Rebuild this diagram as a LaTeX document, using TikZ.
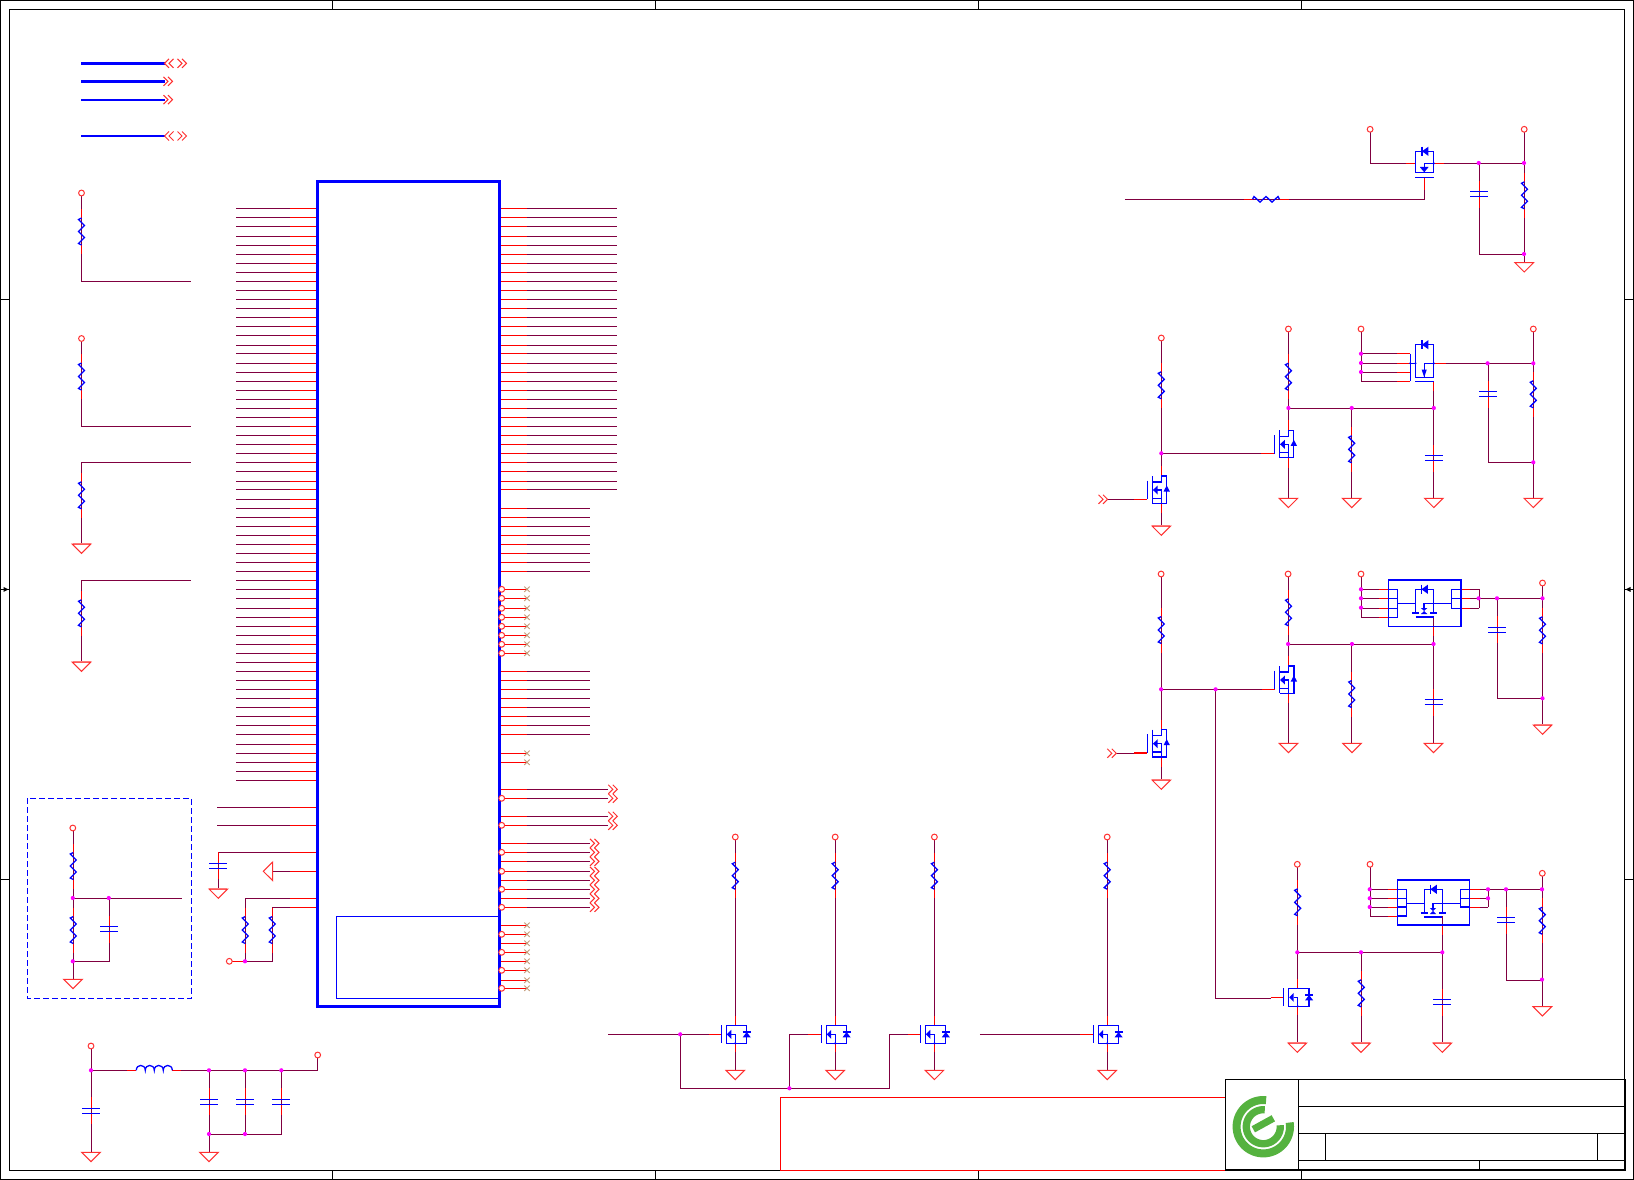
\documentclass[tikz,border=0pt]{standalone}
\definecolor{wirec}{HTML}{800040}
\definecolor{pinc}{HTML}{FF0000}
\definecolor{symc}{HTML}{0000FF}
\definecolor{dotc}{HTML}{FF00FF}
\definecolor{portc}{HTML}{FF3030}
\definecolor{ncc}{HTML}{C49A78}
\definecolor{logoc}{HTML}{55B23F}
\tikzset{
 wire/.style={draw=wirec,line width=1.25pt},
 pinline/.style={draw=pinc,line width=1.25pt},
 sym/.style={draw=symc,line width=1.3pt},
 symfill/.style={fill=symc},
 port/.style={draw=portc,line width=1pt},
 frameln/.style={draw=black,line width=1.1pt},
 busa/.style={draw=symc,line width=3pt},
 busb/.style={draw=symc,line width=2pt},
 ncmark/.style={draw=ncc,line width=0.9pt},
 logoln/.style={draw=logoc},
}
% resistor, vertical and horizontal
\newcommand\RV[2]{\draw[pinline] (#1,#2-22.5)--(#1,#2-13.5) (#1,#2+13.5)--(#1,#2+22.5);
 \draw[sym] (#1,#2-13.5)--(#1-3,#2-12)--(#1+3,#2-6)--(#1-3,#2)--(#1+3,#2+6)--(#1-3,#2+12)--(#1,#2+13.5);}
\newcommand\RH[2]{\draw[pinline] (#1-22.5,#2)--(#1-13.5,#2) (#1+13.5,#2)--(#1+22.5,#2);
 \draw[sym] (#1-13.5,#2)--(#1-12,#2-2.8)--(#1-6,#2+2.8)--(#1,#2-2.8)--(#1+6,#2+2.8)--(#1+12,#2-2.8)--(#1+13.5,#2);}
% capacitor
\newcommand\CV[2]{\draw[pinline] (#1,#2-13.5)--(#1,#2-2.5) (#1,#2+2.5)--(#1,#2+13.5);
 \draw[sym] (#1-9,#2-2.5)--(#1+9,#2-2.5) (#1-9,#2+2.5)--(#1+9,#2+2.5);}
% ground, power circle, junction, chevrons, nc cross
\newcommand\GND[2]{\draw[draw=portc!45,line width=1.5pt] (#1-9,#2)--(#1+9,#2);
 \draw[port] (#1-9.3,#2)--(#1+9.3,#2)--(#1,#2+9.3)--cycle;}
\newcommand\PWR[2]{\draw[port,fill=white] (#1,#2) circle[radius=2.9pt];}
\newcommand\JN[2]{\fill[dotc] (#1,#2) circle[radius=2.1pt];}
\newcommand\CHR[2]{\draw[port] (#1,#2-4.5)--(#1+4.5,#2)--(#1,#2+4.5) (#1+4.5,#2-4.5)--(#1+9,#2)--(#1+4.5,#2+4.5);}
\newcommand\CHL[2]{\draw[port] (#1+4.5,#2-4.5)--(#1,#2)--(#1+4.5,#2+4.5) (#1+9,#2-4.5)--(#1+4.5,#2)--(#1+9,#2+4.5);}
\newcommand\NCX[2]{\draw[ncmark] (#1-2.7,#2-2.7)--(#1+2.7,#2+2.7) (#1-2.7,#2+2.7)--(#1+2.7,#2-2.7);}
% diode with bar on the left, on a horizontal line
\newcommand\DIOH[2]{\fill[symfill] (#1,#2)--(#1+6.5,#2-4.6)--(#1+6.5,#2+4.6)--cycle;
 \draw[sym] (#1,#2-4.6)--(#1,#2+4.6);}
% NMOS in a box: drain x, top y
\newcommand\NFA[2]{\draw[pinline] (#1,#2-9)--(#1,#2) (#1,#2+18)--(#1,#2+27) (#1-27,#2+9)--(#1-14,#2+9);
 \draw[sym] (#1-14,#2)--(#1-14,#2+18);
 \draw[sym] (#1-9,#2) rectangle (#1+11.4,#2+18);
 \fill[symfill] (#1-8.5,#2+9)--(#1-4,#2+4.5)--(#1-4,#2+13.5)--cycle;
 \draw[sym] (#1-4,#2+9)--(#1,#2+9)--(#1,#2+18);
 \fill[symc] (#1,#2+18) circle[radius=1.2pt];
 \fill[symfill] (#1+11.4,#2+6.7)--(#1+15.4,#2+12)--(#1+7.4,#2+12)--cycle;
 \draw[sym] (#1+7.4,#2+6.7)--(#1+15.4,#2+6.7);}
% NMOS four-terminal: drain x, centre y
\newcommand\NFB[2]{\draw[pinline] (#1,#2-24)--(#1,#2-14) (#1,#2+13.3)--(#1,#2+23.3) (#1-27,#2+9.3)--(#1-14,#2+9.3);
 \draw[sym] (#1-14,#2-9.3)--(#1-14,#2+9.3);
 \draw[sym] (#1-8.9,#2-14)--(#1-8.9,#2+13.3);
 \draw[sym] (#1-8.9,#2-8)--(#1,#2-8)--(#1,#2-14)--(#1+5.4,#2-14)--(#1+5.4,#2+13.3)--(#1-8.9,#2+13.3);
 \draw[sym] (#1-8.9,#2+8.3)--(#1,#2+8.3);
 \draw[sym] (#1-4,#2)--(#1,#2)--(#1,#2+13.3);
 \fill[symfill] (#1-8.4,#2)--(#1-3.6,#2-4.5)--(#1-3.6,#2+4.5)--cycle;
 \fill[symfill] (#1+5.4,#2-4.5)--(#1+8.6,#2+1.5)--(#1+2.2,#2+1.5)--cycle;}
% load-switch block: left x, top y, extra height
\newcommand\BIGSW[3]{\draw[sym] (#1,#2) rectangle (#1+72.5,#2+45+#3);
 \draw[sym] (#1,#2+9.3) rectangle (#1+9,#2+36+#3);
 \draw[sym] (#1,#2+18.3)--(#1+9,#2+18.3) (#1,#2+27+#3)--(#1+9,#2+27+#3);
 \draw[sym] (#1+63,#2+9.3) rectangle (#1+72.5,#2+27+#3);
 \draw[sym] (#1+63,#2+18.3)--(#1+72.5,#2+18.3);
 \draw[sym] (#1+9,#2+23.3)--(#1+27.1,#2+23.3);
 \draw[sym] (#1+27.1,#2+32.5)--(#1+27.1,#2+9.3)--(#1+45.1,#2+9.3)--(#1+45.1,#2+32.5);
 \draw[sym] (#1+35.7,#2+28)--(#1+35.7,#2+23.3)--(#1+63,#2+23.3);
 \draw[symc,line width=2pt] (#1+23.6,#2+32.5)--(#1+30.5,#2+32.5) (#1+41.6,#2+32.5)--(#1+48.6,#2+32.5);
 \draw[sym] (#1+27.1,#2+37)--(#1+45.1,#2+37);
 \fill[symfill] (#1+35.7,#2+31)--(#1+32.5,#2+34)--(#1+38.9,#2+34)--cycle;
 \fill[symfill] (#1+35.7,#2+31)--(#1+32.5,#2+28)--(#1+38.9,#2+28)--cycle;
 \DIOH{#1+33}{#2+9.3}}
\begin{document}
\begin{tikzpicture}[x=1pt,y=-1pt]
\useasboundingbox (0,0) rectangle (1634,1180);
\fill[white] (0,0) rectangle (1634,1180);
% ---------- sheet frame
\draw[frameln] (0.5,0.5) rectangle (1633.5,1179.5);
\draw[frameln] (9.5,9.5) rectangle (1624.5,1170.3);
\foreach \x in {332.4,655.5,978.5,1301.5}{\draw[frameln] (\x,0.5)--(\x,9.5) (\x,1170.3)--(\x,1179.5);}
\foreach \y in {299.3,589.4,879.3}{\draw[frameln] (0.5,\y)--(9.5,\y) (1624.5,\y)--(1633.5,\y);}
\fill (8.5,589.4)--(3.5,586.9)--(3.5,591.9)--cycle;
\fill (1625.5,589.4)--(1630.5,586.9)--(1630.5,591.9)--cycle;
% ---------- red box
\draw[pinline,line width=1.1pt] (780.4,1097.3) rectangle (1225.3,1170.3);
% ---------- title block
\draw[frameln] (1225.3,1079.3) rectangle (1625,1169.5);
\draw[draw=black,line width=2pt] (1225.3,1169.5)--(1625,1169.5)--(1625,1079.3);
\draw[frameln] (1298.7,1079.3)--(1298.7,1169.5);
\draw[frameln] (1298.7,1106.3)--(1625,1106.3) (1298.7,1133.3)--(1625,1133.3) (1298.7,1160.3)--(1625,1160.3);
\draw[frameln] (1325.7,1133.3)--(1325.7,1160.3) (1597.3,1133.3)--(1597.3,1160.3) (1479.3,1160.3)--(1479.3,1169.5);
% logo
\draw[logoln,line width=8pt] plot[domain=84:369,samples=70,smooth] ({1263.3+26.7*cos(\x)},{1126.7-26.7*sin(\x)});
\draw[logoln,line width=7.3pt] plot[domain=85:365,samples=60,smooth] ({1263.3+17*cos(\x)},{1126.7-17*sin(\x)});
\draw[logoln,line width=7pt] (1253.3,1129.3)--(1273.3,1118.3);
% ---------- bus stubs top left
\draw[busa] (81,63.3)--(164.5,63.3) (81,81.3)--(164.5,81.3);
\draw[busb] (81,99.7)--(164.5,99.7) (81,136)--(164.5,136);
\CHL{164.5}{63.3}\CHR{177.5}{63.3}
\CHR{163.5}{81.3}
\CHR{163.5}{99.7}
\CHL{164.5}{136}\CHR{177.5}{136}
% ---------- left pull networks
\draw[wire] (81.5,196)--(81.5,281.3)--(190.7,281.3);\RV{81.5}{231.5}\PWR{81.5}{193}
\draw[wire] (81.5,341)--(81.5,426.3)--(190.7,426.3);\RV{81.5}{376.5}\PWR{81.5}{338.5}
\draw[wire] (190.7,462.3)--(81.5,462.3)--(81.5,544);\RV{81.5}{495.3}\GND{81.5}{544}
\draw[wire] (190.7,580.3)--(81.5,580.3)--(81.5,662);\RV{81.5}{613.3}\GND{81.5}{662}
% ---------- main chip pins
\foreach \y in {208.3,217.3,226.3,236.3,245.3,254.3,263.3,272.3,281.3,290.3,299.3,308.3,317.3,326.3,335.3,345.3,353.3,363.3,372.3,381.3,390.3,399.3,408.3,417.3,426.3,435.3,444.3,453.3,462.3,471.3,481.3,489.3,499.3,508.3,517.3,526.3,535.3,544.3,553.3,562.3,571.3,580.3,589.3,598.3,608.3,617.3,626.3,635.3,644.3,653.3,662.3,671.3,680.3,689.3,698.3,707.3,716.3,725.3,734.3,744.3,753.3,762.3,771.3,780.3}{
 \draw[wire] (236,\y)--(290,\y); \draw[pinline] (290,\y)--(317,\y);}
\foreach \y in {807.3,825.3}{\draw[wire] (217.3,\y)--(290,\y); \draw[pinline] (290,\y)--(317,\y);}
\foreach \y in {208.3,217.3,226.3,236.3,245.3,254.3,263.3,272.3,281.3,290.3,299.3,308.3,317.3,326.3,335.3,345.3,353.3,363.3,372.3,381.3,390.3,399.3,408.3,417.3,426.3,435.3,444.3,453.3,462.3,471.3,481.3,489.3}{
 \draw[wire] (527,\y)--(617.3,\y); \draw[pinline] (499,\y)--(527,\y);}
\foreach \y in {508.3,517.3,526.3,535.3,544.3,553.3,562.3,571.3,671.3,680.3,689.3,698.3,707.3,716.3,725.3,734.3}{
 \draw[wire] (527,\y)--(590,\y); \draw[pinline] (499,\y)--(527,\y);}
\foreach \y in {589.3,598.3,608.3,617.3,626.3,635.3,644.3,653.3,934.3,952.3,970.3,988.3}{
 \draw[pinline] (499,\y)--(527,\y); \NCX{527}{\y}}
\foreach \y in {753.3,762.3,925.3,943.3,961.3,980.3}{
 \draw[pinline] (499,\y)--(527,\y); \NCX{527}{\y}}
\foreach \y in {789.3,798.3,816.3,825.3}{
 \draw[wire] (527,\y)--(608.3,\y); \draw[pinline] (499,\y)--(527,\y); \CHR{608.3}{\y}}
\foreach \y in {843.3,852.3,861.3,871.3,880.3,889.3,898.3,907.3}{
 \draw[wire] (527,\y)--(590,\y); \draw[pinline] (499,\y)--(527,\y); \CHR{590}{\y}}
% chip left extras
\draw[wire] (290,852.3)--(218.3,852.3)--(218.3,889);
\draw[pinline] (290,852.3)--(317,852.3);
\CV{218.3}{865.7}\GND{218.3}{889}
\draw[wire] (272.7,871.3)--(290,871.3);
\draw[pinline] (290,871.3)--(317,871.3);
\draw[draw=portc!45,line width=1.5pt] (272.7,862.3)--(272.7,880.3);
\draw[port] (272.7,862)--(272.7,880.6)--(263.3,871.3)--cycle;
\draw[wire] (290,898.3)--(245.3,898.3)--(245.3,961.3);
\draw[wire] (290,907.3)--(272.3,907.3)--(272.3,961.3)--(245.3,961.3);
\draw[pinline] (290,898.3)--(317,898.3) (290,907.3)--(317,907.3);
\draw[pinline] (232,961.3)--(245.3,961.3);
\RV{245.3}{930}\RV{272.3}{930}\PWR{229.3}{961.3}\JN{245}{961.3}
% chip body
\draw[symc,line width=3pt] (317.3,181.7) rectangle (499,1006.7);
\draw[sym] (336.3,916.3) rectangle (499,998.3);
\foreach \y in {589.3,598.3,608.3,617.3,626.3,635.3,644.3,653.3,934.3,952.3,970.3,988.3,798.3,825.3,852.3,871.3,889.3,907.3}{\PWR{501.7}{\y}}
% ---------- dashed group
\draw[symc,line width=1.1pt,dash pattern=on 6pt off 3pt] (27.3,798.3) rectangle (191.7,998.3);
\draw[wire] (73.3,831)--(73.3,979.3);
\draw[wire] (73.3,898.3)--(181.7,898.3);
\draw[wire] (109.3,898.3)--(109.3,961.3)--(73.3,961.3);
\RV{73.3}{866}\RV{73.3}{930}\CV{109.3}{929.3}
\PWR{72.8}{828}\GND{73}{979.3}\JN{72.8}{898}\JN{108.8}{898}\JN{72.8}{961.3}
% ---------- input filter bottom left
\draw[wire] (91.3,1049)--(91.3,1152.3);
\draw[wire] (91.3,1070.3)--(127,1070.3) (181,1070.3)--(317.7,1070.3)--(317.7,1058);
\draw[pinline] (127,1070.3)--(136.3,1070.3) (172.3,1070.3)--(181,1070.3);
\draw[sym] (136.3,1070.3) .. controls (136.3,1063.8) and (145.3,1063.8) .. (145.3,1070.3)
 .. controls (145.3,1063.8) and (154.3,1063.8) .. (154.3,1070.3)
 .. controls (154.3,1063.8) and (163.3,1063.8) .. (163.3,1070.3)
 .. controls (163.3,1063.8) and (172.3,1063.8) .. (172.3,1070.3);
\draw[wire] (209.3,1070.3)--(209.3,1152.3);
\draw[wire] (245.3,1070.3)--(245.3,1134.3);
\draw[wire] (281.3,1070.3)--(281.3,1134.3)--(209.3,1134.3);
\CV{91.3}{1110.7}\CV{209.3}{1101.7}\CV{245.3}{1101.7}\CV{281.3}{1101.7}
\PWR{91}{1046}\PWR{317.7}{1055}\GND{91}{1152.3}\GND{209}{1152.3}
\JN{91}{1070.3}\JN{209}{1070.3}\JN{245}{1070.3}\JN{281.3}{1070.3}\JN{209}{1134}\JN{245}{1134}
% ---------- low-side driver row
\foreach \d in {735.3,835.2,934.4,1107.2}{
 \draw[wire] (\d,840)--(\d,1025.3) (\d,1043.3)--(\d,1070.3);
 \RV{\d}{875.7}\NFA{\d}{1025.3}\PWR{\d}{837}\GND{\d}{1070.3}}
\draw[wire] (608,1034.3)--(708.5,1034.3);
\draw[wire] (680.2,1034.3)--(680.2,1088.3)--(889.3,1088.3)--(889.3,1034.3)--(908,1034.3);
\draw[wire] (789.4,1088.3)--(789.4,1034.3)--(808.2,1034.3);
\draw[wire] (979.8,1034.3)--(1080.2,1034.3);
\JN{680.2}{1034.3}\JN{789.4}{1088.3}
% ---------- circuit E (top right)
\draw[wire] (1370.8,132)--(1370.8,163.3)--(1415.4,163.3);
\draw[wire] (1433.8,163.3)--(1524.5,163.3);
\draw[wire] (1124.9,199.3)--(1424.2,199.3)--(1424.2,177.3);
\draw[pinline] (1405.5,163.3)--(1415.4,163.3) (1433.8,163.3)--(1444,163.3) (1424.2,177.3)--(1424.2,190);
\RH{1266}{199.3}
\draw[sym] (1415.4,151.3) rectangle (1433.8,172.3);
\draw[sym] (1433.8,163.3)--(1424.2,163.3)--(1424.2,172.3);
\fill[symfill] (1424.2,172.3)--(1419.8,167)--(1428.6,167)--cycle;
\draw[sym] (1415.4,177.3)--(1433.8,177.3);
\DIOH{1421.9}{151.3}
\draw[wire] (1524.5,132)--(1524.5,262.7);
\draw[wire] (1479.4,163.3)--(1479.4,254.3)--(1524.5,254.3);
\RV{1524.5}{195.3}\CV{1479.4}{194.3}
\PWR{1370.1}{129.3}\PWR{1524.2}{129.3}\GND{1524.2}{262.7}
\JN{1478.7}{163}\JN{1524}{163}\JN{1524}{254}\fill[symc] (1433.8,163.3) circle[radius=1.2pt];
% ---------- circuit F
\draw[wire] (1161.3,341)--(1161.3,476) (1161.3,503.3)--(1161.3,526);
\draw[wire] (1161.3,453.3)--(1261.4,453.3);
\draw[wire] (1107.5,499.3)--(1134.3,499.3);
\RV{1161.3}{385.3}\NFB{1161.3}{490}
\CHR{1098.5}{499.3}\PWR{1161.3}{338}\GND{1161.3}{526}\JN{1161.3}{453.3}
\draw[wire] (1288.4,332)--(1288.4,430.3) (1288.4,457.6)--(1288.4,498.3);
\draw[wire] (1288.4,408.3)--(1433.8,408.3);
\draw[wire] (1351.7,408.3)--(1351.7,498.3);
\draw[wire] (1433.8,381.3)--(1433.8,498.3);
\RV{1288.4}{376.7}\NFB{1288.4}{444.3}\RV{1351.7}{449.3}\CV{1433.8}{458}
\draw[pinline] (1433.8,381.3)--(1433.8,391);
\PWR{1288.4}{329}\GND{1288.4}{498.3}\GND{1351.7}{498.3}\GND{1433.8}{498.3}
\JN{1288.4}{408}\JN{1351.7}{408}\JN{1433.8}{408}
\draw[wire] (1361.3,332)--(1361.3,381.3);
\foreach \y in {353.7,363.3,372.3,381.3}{\draw[wire] (1361.3,\y)--(1397,\y);\draw[pinline] (1397,\y)--(1410.3,\y);}
\draw[sym] (1410.3,353.7)--(1410.3,381.3);
\draw[sym] (1410.3,363.3)--(1415.4,363.3);
\draw[sym] (1415.4,344.7) rectangle (1433.8,377.3);
\draw[sym] (1433.8,363.3)--(1424.2,363.3)--(1424.2,377.3);
\fill[symfill] (1424.2,377.3)--(1421.6,369.5)--(1426.8,369.5)--cycle;
\draw[sym] (1415.4,381.3)--(1433.8,381.3);
\DIOH{1421.9}{344.7}
\draw[wire] (1433.8,363.3)--(1533.3,363.3);
\draw[pinline] (1434.5,363.3)--(1446,363.3);
\fill[symc] (1410.3,363.3) circle[radius=1.2pt] (1415.4,363.3) circle[radius=1.2pt] (1433.8,363.3) circle[radius=1.2pt];
\draw[wire] (1533.3,332)--(1533.3,498.3);
\draw[wire] (1488.3,363.3)--(1488.3,462.3)--(1533.3,462.3);
\RV{1533.3}{394.3}\CV{1488.3}{394.3}
\PWR{1361}{329}\PWR{1533.3}{329}\GND{1533.3}{498.3}
\JN{1361}{353.7}\JN{1361}{363}\JN{1361}{372}\JN{1487.6}{363.3}\JN{1533.3}{363.3}\JN{1533.3}{462.3}
% ---------- circuit G
\draw[wire] (1161.3,577)--(1161.3,729.7) (1161.3,757)--(1161.3,780);
\draw[wire] (1161.3,689.3)--(1261.5,689.3);
\draw[wire] (1116,753.3)--(1134.3,753.3);
\RV{1161.3}{630}\NFB{1161.3}{743.7}
\CHR{1107.3}{753.3}\PWR{1161.1}{574}\GND{1161.3}{780}\JN{1161.1}{689.3}
\draw[wire] (1215.3,689.3)--(1215.3,998.3)--(1271,998.3);
\JN{1215.6}{689.3}
\draw[wire] (1288.5,577)--(1288.5,666) (1288.5,693.3)--(1288.5,743.3);
\draw[wire] (1288.5,644.3)--(1433.5,644.3);
\draw[wire] (1351.7,644.3)--(1351.7,743.3);
\draw[wire] (1433.5,617.3)--(1433.5,743.3);
\RV{1288.5}{612.3}\NFB{1288.5}{680}\RV{1351.7}{694}\CV{1433.5}{702.3}
\draw[pinline] (1433.5,626)--(1433.5,636);
\PWR{1288.1}{574}\GND{1288.5}{743.3}\GND{1352}{743.3}\GND{1433.5}{743.3}
\JN{1288.1}{644}\JN{1352}{644}\JN{1433.5}{644}
\draw[wire] (1361.3,577)--(1361.3,617.3);
\foreach \y in {589.3,598.3,608.3,617.3}{\draw[wire] (1361.3,\y)--(1379,\y);\draw[pinline] (1379,\y)--(1397.4,\y);}
\foreach \y in {589.3,598.3,608.3}{\draw[wire] (1470,\y)--(1479.3,\y);\draw[pinline] (1451.6,\y)--(1470,\y);}
\BIGSW{1388.4}{580}{1.3}
\draw[wire] (1479.3,589.3)--(1479.3,608.3);
\draw[wire] (1479.3,598.3)--(1542.5,598.3);
\draw[wire] (1542.5,586)--(1542.5,725);
\draw[wire] (1497.3,598.3)--(1497.3,698.3)--(1542.5,698.3);
\RV{1542.5}{630.3}\CV{1497.3}{629.7}
\PWR{1361}{574}\PWR{1542.5}{583}\GND{1542.5}{725}
\JN{1361}{589.3}\JN{1361}{598.3}\JN{1361}{607.7}\JN{1478.6}{598.3}\JN{1497}{598.3}\JN{1542.5}{598.3}\JN{1542.5}{698.3}
% ---------- circuit H
\draw[wire] (1297.7,867)--(1297.7,988.3) (1297.7,1006.3)--(1297.7,1043);
\draw[wire] (1297.7,952.3)--(1442.3,952.3);
\draw[wire] (1361.3,952.3)--(1361.3,1043);
\draw[wire] (1442.3,916.3)--(1442.3,1043);
\RV{1297.7}{902.3}\NFA{1297.7}{988.3}\RV{1361.3}{993.3}\CV{1442.3}{1002}
\draw[pinline] (1442.3,925)--(1442.3,935);
\PWR{1297.3}{864.3}\GND{1297.3}{1043}\GND{1361}{1043}\GND{1442.3}{1043}
\JN{1297.3}{952.3}\JN{1361}{952.3}\JN{1442.3}{952.3}
\draw[wire] (1370.3,867)--(1370.3,916.3);
\foreach \y in {889.3,898.3,907.3,916.3}{\draw[wire] (1370.3,\y)--(1388.3,\y);\draw[pinline] (1388.3,\y)--(1406.7,\y);}
\foreach \y in {889.3,898.3,907.3}{\draw[wire] (1480,\y)--(1488.3,\y);\draw[pinline] (1460.3,\y)--(1480,\y);}
\BIGSW{1397.3}{880}{0}
\draw[wire] (1488.3,889.3)--(1488.3,907.3);
\draw[wire] (1488.3,889.3)--(1542.3,889.3);
\draw[wire] (1542.3,876)--(1542.3,1006.7);
\draw[wire] (1506.3,889.3)--(1506.3,980.3)--(1542.3,980.3);
\RV{1542.3}{920.7}\CV{1506.3}{920}
\PWR{1370}{864.3}\PWR{1542.3}{873.3}\GND{1542.3}{1006.7}
\JN{1369.7}{889.3}\JN{1369.7}{898.3}\JN{1369.7}{907}\JN{1488}{889.3}\JN{1488}{898.3}\JN{1506}{889.3}\JN{1542}{889.3}\JN{1542}{979.6}
\end{tikzpicture}
\end{document}
